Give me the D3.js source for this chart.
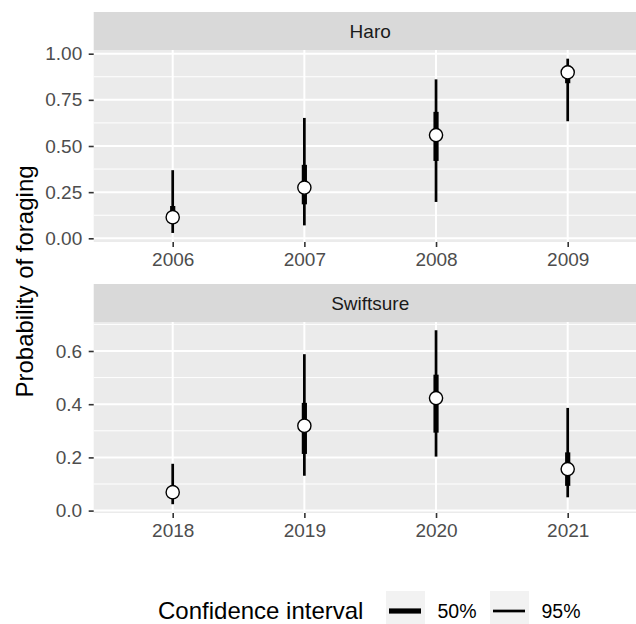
<!DOCTYPE html>
<html>
<head>
<script src="https://cdnjs.cloudflare.com/ajax/libs/d3/7.8.5/d3.min.js"></script>
<style type='text/css'>
  body { margin: 0; background: #fff; }
  svg { display: block; font-family: "Liberation Sans", Arial, sans-serif; }
  .axis path.domain { display: none; }
  .axis line { stroke: #333; stroke-width: 1.6; }
  .axis text { fill: #4d4d4d; font-size: 19px; }
</style>
</head>
<body>
<div id='chart'></div>
<script type='text/javascript'>
  // Haro panel
  var haroYears = ["2006", "2007", "2008", "2009"];
  var haroMean = [0.114, 0.275, 0.559, 0.899];
  var haroLo95 = [0.029, 0.070, 0.197, 0.634];
  var haroHi95 = [0.369, 0.652, 0.861, 0.973];
  var haroLo50 = [0.080, 0.184, 0.419, 0.840];
  var haroHi50 = [0.175, 0.398, 0.685, 0.935];
  var haroTicks = [0, 0.25, 0.5, 0.75, 1];

  // Swiftsure panel
  var swiftYears = ["2018", "2019", "2020", "2021"];
  var swiftMean = [0.069, 0.319, 0.423, 0.156];
  var swiftLo95 = [0.024, 0.131, 0.203, 0.050];
  var swiftHi95 = [0.176, 0.588, 0.678, 0.386];
  var swiftLo50 = [0.047, 0.213, 0.293, 0.093];
  var swiftHi50 = [0.095, 0.405, 0.511, 0.219];
  var swiftTicks = [0, 0.2, 0.4, 0.6];

  var legendLabels = ["50%", "95%"];

  var W = 636, H = 624;
  var left = 93.7, right = 646.7;

  var svg = d3.select("#chart").append("svg")
    .attr("width", W).attr("height", H);

  function drawPanel(opt)
  {
    var g = svg.append("g");
    var x = d3.scalePoint().domain(opt.years).range([left, right]).padding(0.6);
    var y = d3.scaleLinear().domain(opt.domain).range([opt.bottom, opt.top]);

    // strip
    g.append("rect")
      .attr("x", left).attr("y", opt.stripTop)
      .attr("width", right - left).attr("height", opt.top - opt.stripTop)
      .attr("fill", "#d9d9d9");
    g.append("text")
      .attr("x", (left + right) / 2).attr("y", (opt.top + opt.stripTop) / 2)
      .attr("dy", "0.35em").attr("text-anchor", "middle")
      .attr("font-size", 19).attr("fill", "#1a1a1a")
      .text(opt.name);

    // panel
    g.append("rect")
      .attr("x", left).attr("y", opt.top)
      .attr("width", right - left).attr("height", opt.bottom - opt.top)
      .attr("fill", "#ebebeb");

    var minor = [];
    var step = opt.ticks[1] - opt.ticks[0];
    opt.ticks.forEach(function(t) { minor.push(t + step / 2); });
    minor = minor.filter(function(m) { return m < opt.domain[1]; });

    g.selectAll(".minor").data(minor).enter().append("line")
      .attr("x1", left).attr("x2", right)
      .attr("y1", function(d) { return y(d); }).attr("y2", function(d) { return y(d); })
      .attr("stroke", "#fff").attr("stroke-width", 1);
    g.selectAll(".major").data(opt.ticks).enter().append("line")
      .attr("x1", left).attr("x2", right)
      .attr("y1", function(d) { return y(d); }).attr("y2", function(d) { return y(d); })
      .attr("stroke", "#fff").attr("stroke-width", 2);
    g.selectAll(".vgrid").data(opt.years).enter().append("line")
      .attr("x1", function(d) { return x(d); }).attr("x2", function(d) { return x(d); })
      .attr("y1", opt.top).attr("y2", opt.bottom)
      .attr("stroke", "#fff").attr("stroke-width", 2);

    // intervals
    var rows = opt.years.map(function(yr, i) {
      return { yr: yr, m: opt.mean[i], lo95: opt.lo95[i], hi95: opt.hi95[i], lo50: opt.lo50[i], hi50: opt.hi50[i] };
    });
    g.selectAll(".ci95").data(rows).enter().append("line")
      .attr("x1", function(d) { return x(d.yr); }).attr("x2", function(d) { return x(d.yr); })
      .attr("y1", function(d) { return y(d.lo95); }).attr("y2", function(d) { return y(d.hi95); })
      .attr("stroke", "#000").attr("stroke-width", 2.7);
    g.selectAll(".ci50").data(rows).enter().append("line")
      .attr("x1", function(d) { return x(d.yr); }).attr("x2", function(d) { return x(d.yr); })
      .attr("y1", function(d) { return y(d.lo50); }).attr("y2", function(d) { return y(d.hi50); })
      .attr("stroke", "#000").attr("stroke-width", 5.2);
    g.selectAll(".pt").data(rows).enter().append("circle")
      .attr("cx", function(d) { return x(d.yr); }).attr("cy", function(d) { return y(d.m); })
      .attr("r", 6.6).attr("fill", "#fff").attr("stroke", "#000").attr("stroke-width", 1.4);

    // axes
    g.append("g").attr("class", "axis")
      .attr("transform", "translate(" + left + ",0)")
      .call(d3.axisLeft(y).tickValues(opt.ticks).tickFormat(d3.format(opt.fmt))
        .tickSize(5).tickPadding(6.5));
    g.append("g").attr("class", "axis")
      .attr("transform", "translate(0," + opt.bottom + ")")
      .call(d3.axisBottom(x).tickSize(5).tickPadding(6));
  }

  drawPanel({ name: "Haro", years: haroYears, mean: haroMean, lo95: haroLo95, hi95: haroHi95,
    lo50: haroLo50, hi50: haroHi50, ticks: haroTicks, fmt: ".2f",
    domain: [-0.02, 1.02], stripTop: 12, top: 50, bottom: 242 });
  drawPanel({ name: "Swiftsure", years: swiftYears, mean: swiftMean, lo95: swiftLo95, hi95: swiftHi95,
    lo50: swiftLo50, hi50: swiftHi50, ticks: swiftTicks, fmt: ".1f",
    domain: [-0.009, 0.709], stripTop: 284, top: 322, bottom: 513 });

  // y title
  svg.append("text")
    .attr("transform", "translate(25,281.5) rotate(-90)")
    .attr("text-anchor", "middle").attr("dy", "0.35em")
    .attr("font-size", 24).attr("fill", "#000")
    .text("Probability of foraging");

  // legend
  var leg = svg.append("g");
  leg.append("text")
    .attr("x", 158).attr("y", 611).attr("dy", "0.35em")
    .attr("font-size", 24).attr("fill", "#000")
    .text("Confidence interval");
  var keyX = d3.scaleOrdinal().domain(legendLabels).range([386, 490]);
  var keyW = d3.scaleOrdinal().domain(legendLabels).range([5.2, 2.7]);
  var keys = leg.selectAll(".key").data(legendLabels).enter().append("g")
    .attr("transform", function(d) { return "translate(" + keyX(d) + ",0)"; });
  keys.append("rect")
    .attr("x", 0).attr("y", 591).attr("width", 39).attr("height", 40)
    .attr("fill", "#f2f2f2");
  keys.append("line")
    .attr("x1", 3).attr("x2", 35).attr("y1", 611).attr("y2", 611)
    .attr("stroke", "#000").attr("stroke-width", function(d) { return keyW(d); });
  keys.append("text")
    .attr("x", 51.5).attr("y", 611).attr("dy", "0.35em")
    .attr("font-size", 19.5).attr("fill", "#000")
    .text(function(d) { return d; });
</script>
</body>
</html>
